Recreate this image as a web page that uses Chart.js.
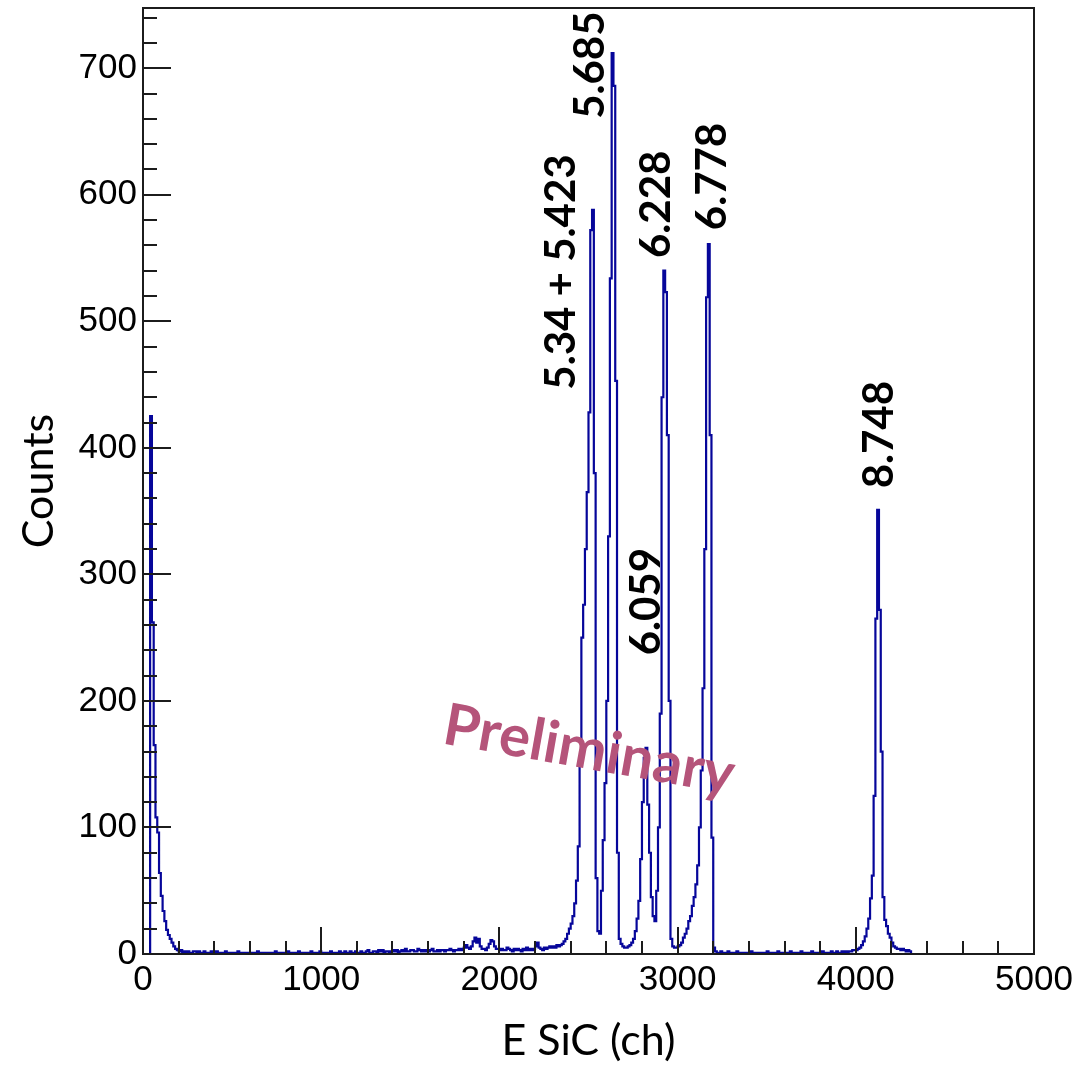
<!DOCTYPE html>
<html>
<head>
<meta charset="utf-8">
<title>E SiC spectrum</title>
<script src="https://cdn.jsdelivr.net/npm/chart.js@4.4.1/dist/chart.umd.min.js"></script>
<style>
    html, body { margin: 0; padding: 0; background: #fff; }
    #spectrum { display: block; }
</style>
</head>
<body>
<canvas id="spectrum" width="1078" height="1065"></canvas>
<script>
// Histogram of the SiC detector, 10 channels per bin.
// Each block of counts starts at the given channel.
const binWidth = 10;

const lowStart = 0;
const lowCounts = [0, 0, 0, 0, 0, 425, 262, 165, 108, 96, 64, 46, 34, 26, 19, 15, 12, 9, 6, 4,
    3, 2, 3, 1, 2, 1, 2, 1, 1, 2];

const backgroundStart = 300;
const backgroundCounts = [
    2, 1, 2, 1, 1, 2, 1, 0, 1, 2,
    1, 1, 2, 1, 0, 1, 1, 2, 1, 1,
    1, 0, 1, 1, 2, 1, 1, 0, 1, 1,
    1, 1, 0, 1, 1, 2, 1, 1, 0, 1,
    1, 1, 1, 0, 1, 2, 1, 1, 1, 0,
    1, 1, 2, 1, 1, 0, 1, 1, 2, 1,
    1, 0, 1, 1, 1, 2, 1, 0, 1, 1,
    2, 1, 1, 1, 0, 1, 2, 1, 1, 1,
    1, 2, 1, 1, 2, 1, 1, 2, 1, 1,
    2, 1, 1, 2, 1, 1, 2, 3, 1, 1,
    2, 2, 1, 3, 2, 3, 1, 2, 2, 1,
    2, 3, 2, 3, 1, 2, 3, 2, 4, 2,
    2, 3, 3, 2, 2, 4, 3, 2, 3, 2,
    3, 2, 3, 4, 2, 2, 3, 2, 3, 3,
    2, 3, 3, 4, 3, 2, 3, 3, 4, 3,
    4, 5, 7, 5, 4, 6, 10, 13, 9, 12,
    6, 4, 4, 3, 5, 8, 11, 10, 6, 4,
    4, 3, 4, 3, 3, 5, 4, 3, 2, 4,
    3, 4, 3, 2, 4, 3, 5, 3, 4, 3,
    4, 6, 9, 5, 4, 3, 5, 4, 5, 6,
    5, 6, 5, 7
];

// 5.3 - 6.8 MeV group
const groupStart = 2340;
const groupCounts = [
    6, 7, 8, 10, 12, 16, 20, 24, 30, 40,
    58, 85, 150, 250, 276, 320, 365, 428, 572, 588,
    380, 60, 18, 16, 50, 90, 135, 200, 330, 534,
    712, 686, 453, 80, 12, 8, 6, 5, 5, 6,
    7, 9, 12, 18, 28, 42, 75, 120, 155, 163,
    118, 80, 45, 30, 26, 50, 100, 190, 440, 540,
    523, 410, 200, 12, 6, 5, 5, 6, 7, 9,
    13, 16, 20, 26, 30, 38, 45, 55, 70, 100,
    145, 210, 320, 519, 561, 410, 92, 5
];

const gapStart = 3220;
const gapCounts = [
    2, 1, 1, 2, 0, 1, 1, 2,
    1, 0, 1, 1, 2, 1, 0, 1, 1, 1,
    0, 1, 2, 1, 1, 0, 1, 1, 0, 1,
    1, 2, 1, 0, 1, 1, 1, 2, 1, 0,
    1, 1, 0, 1, 2, 1, 1, 0, 1, 1,
    2, 1, 1, 0, 1, 1, 2, 1, 1, 0,
    1, 1, 2, 1, 0, 1, 1, 2, 1, 1,
    2, 1, 1, 2, 1, 2, 1, 2, 2, 3
];

// 8.748 MeV line
const highStart = 4000;
const highCounts = [3, 3, 4, 5, 7, 10, 14, 20, 28, 44, 62, 125, 265, 351, 272, 160, 45, 27, 22, 16,
    13, 9, 6, 5, 4, 4, 3, 4, 3, 2, 3, 2];

const channelMax = 5000;

const peakNames = ["5.34 + 5.423", "5.685", "6.059", "6.228", "6.778", "8.748"];
// where each rotated name starts, in (channel, counts)
const peakNameAnchors = [[2346, 446], [2509, 660], [2823, 236], [2879, 550], [3193, 572], [4130, 368]];

function appendBins(points, start, counts) {
    counts.forEach((c, i) => points.push({ x: start + i * binWidth, y: c }));
}

const histogram = [];
appendBins(histogram, lowStart, lowCounts);
appendBins(histogram, backgroundStart, backgroundCounts);
appendBins(histogram, groupStart, groupCounts);
appendBins(histogram, gapStart, gapCounts);
appendBins(histogram, highStart, highCounts);
const lastEdge = highStart + highCounts.length * binWidth;
histogram.push({ x: lastEdge, y: 0 }, { x: channelMax, y: 0 });

// ROOT style: top of the frame at 1.05 x the highest bin
const countsMax = 1.05 * Math.max(...histogram.map(p => p.y));

// tick spacing: [major, minor]
const xTickSteps = [1000, 200];
const yTickSteps = [100, 20];

// inward ticks, frame and the annotations
const rootFrame = {
    id: "rootFrame",
    beforeDraw(chart) {
        const ctx = chart.ctx;
        ctx.save();
        ctx.fillStyle = "#fff";
        ctx.fillRect(0, 0, chart.width, chart.height);
        ctx.restore();
    },
    afterDatasetsDraw(chart) {
        const { ctx, chartArea: a, scales: { x, y } } = chart;
        ctx.save();
        ctx.strokeStyle = "#1c1c1c";
        ctx.lineWidth = 2;
        ctx.beginPath();
        for (let v = xTickSteps[1]; v < x.max; v += xTickSteps[1]) {
            const px = Math.round(x.getPixelForValue(v));
            const len = v % xTickSteps[0] === 0 ? 27 : 13;
            ctx.moveTo(px, a.bottom);
            ctx.lineTo(px, a.bottom - len);
        }
        for (let v = yTickSteps[1]; v < y.max; v += yTickSteps[1]) {
            const py = Math.round(y.getPixelForValue(v));
            const len = v % yTickSteps[0] === 0 ? 28 : 14;
            ctx.moveTo(a.left, py);
            ctx.lineTo(a.left + len, py);
        }
        ctx.stroke();
        ctx.lineWidth = 2;
        ctx.strokeRect(a.left, a.top, a.right - a.left, a.bottom - a.top);

        // peak energies in MeV, written upwards
        ctx.fillStyle = "#000";
        ctx.font = "bold 42px Lato";
        ctx.textAlign = "left";
        ctx.textBaseline = "middle";
        peakNames.forEach((name, i) => {
            const [ch, counts] = peakNameAnchors[i];
            ctx.save();
            ctx.translate(x.getPixelForValue(ch), y.getPixelForValue(counts));
            ctx.rotate(-Math.PI / 2);
            ctx.fillText(name, 0, 0);
            ctx.restore();
        });

        ctx.fillStyle = "#b5547a";
        ctx.font = "bold 58px Lato";
        ctx.textAlign = "center";
        ctx.translate(x.getPixelForValue(2503), y.getPixelForValue(161));
        ctx.rotate(10 * Math.PI / 180);
        ctx.fillText("Preliminary", 0, 0);
        ctx.restore();
    }
};

const tickFont = { family: "'Liberation Sans', Arial, sans-serif", size: 35 };
const titleFont = { family: "Lato", size: 43, lineHeight: 1 };

document.addEventListener("DOMContentLoaded", async () => {
    await Promise.all([
        document.fonts.load("35px 'Liberation Sans'"),
        document.fonts.load("43px Lato"),
        document.fonts.load("bold 42px Lato")
    ]).catch(() => {});

    const ctx = document.getElementById("spectrum").getContext("2d");

    new Chart(ctx, {
        type: "line",
        data: {
            datasets: [{
                label: "E SiC",
                data: histogram,
                stepped: "after",
                borderColor: "#06069a",
                borderWidth: 2.2,
                pointRadius: 0,
                fill: false
            }]
        },
        options: {
            responsive: false,
            animation: false,
            devicePixelRatio: 1,
            parsing: false,
            layout: { padding: { top: 8, right: 44, left: 0, bottom: 0 } },
            plugins: {
                legend: { display: false },
                tooltip: { enabled: false }
            },
            scales: {
                x: {
                    type: "linear",
                    min: 0,
                    max: channelMax,
                    grid: { display: false, drawTicks: false },
                    border: { display: false },
                    afterFit: scale => {
                        scale.height = 111;
                        scale.paddingLeft = 0;
                        scale.paddingRight = 0;
                    },
                    ticks: {
                        stepSize: xTickSteps[0],
                        autoSkip: false,
                        maxRotation: 0,
                        padding: 5,
                        color: "#000",
                        font: tickFont,
                        callback: v => String(v)
                    },
                    title: {
                        display: true,
                        text: "E SiC (ch)",
                        color: "#000",
                        font: titleFont,
                        padding: { top: 0, bottom: 2 }
                    }
                },
                y: {
                    min: 0,
                    max: countsMax,
                    grid: { display: false, drawTicks: false },
                    border: { display: false },
                    afterFit: scale => {
                        scale.width = 143;
                        scale.paddingTop = 0;
                        scale.paddingBottom = 0;
                    },
                    ticks: {
                        stepSize: yTickSteps[0],
                        includeBounds: false,
                        autoSkip: false,
                        padding: 6,
                        color: "#000",
                        font: tickFont,
                        callback: v => String(v)
                    },
                    title: {
                        display: true,
                        text: "Counts",
                        color: "#000",
                        font: titleFont,
                        padding: { top: 18, bottom: 0 }
                    }
                }
            }
        },
        plugins: [rootFrame]
    });
});
</script>
</body>
</html>
